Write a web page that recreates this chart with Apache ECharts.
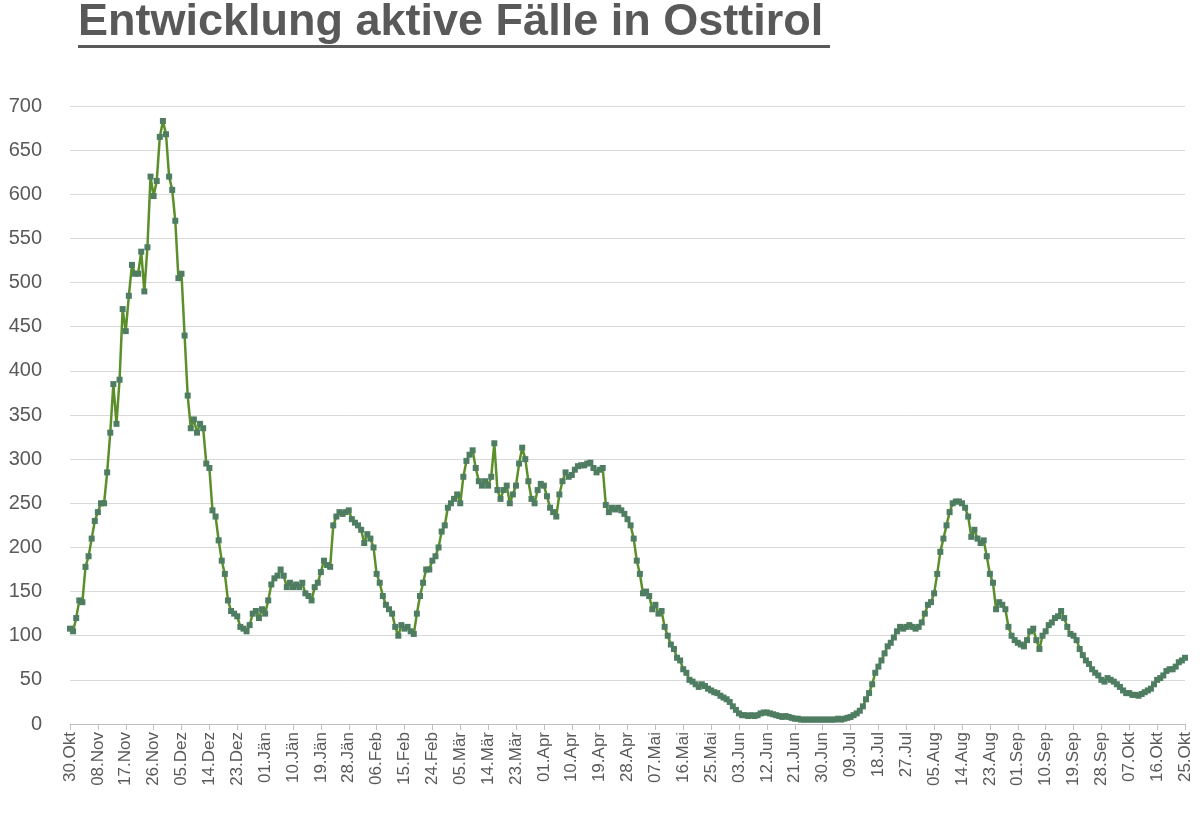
<!DOCTYPE html>
<html><head><meta charset="utf-8">
<script src="https://cdn.jsdelivr.net/npm/echarts@6/dist/echarts.min.js"></script>
<style>html,body{margin:0;background:#fff}#c{width:1200px;height:826px}</style>
</head><body><div id="c"></div>
<script>
const startDate = [2020, 9, 30];
const monthNames = ['Jän','Feb','Mär','Apr','Mai','Jun','Jul','Aug','Sep','Okt','Nov','Dez'];
const activeCases = [
108,105,120,140,138,178,190,210,230,
240,250,250,285,330,385,340,390,470,
445,485,520,510,510,535,490,540,620,
598,615,665,683,668,620,605,570,505,
510,440,372,335,345,330,340,335,295,
290,242,235,208,185,170,140,128,125,
122,110,108,105,112,125,128,120,130,
125,140,158,165,168,175,168,155,160,
155,158,155,160,148,145,140,155,160,
172,185,180,178,225,235,240,238,240,
242,232,228,225,220,205,215,210,200,
170,160,145,135,130,125,110,100,112,
108,110,105,102,125,145,160,175,175,
185,190,200,218,225,245,250,255,260,
250,280,298,305,310,290,275,270,275,
270,280,318,265,255,265,270,250,260,
270,295,313,300,275,255,250,265,272,
270,258,245,240,235,260,275,285,280,
282,288,292,293,293,295,296,290,285,
288,290,248,240,245,243,245,242,238,
232,225,210,185,170,148,150,145,130,
135,125,128,110,100,90,85,75,72,
62,58,50,48,45,42,45,43,40,
38,36,35,32,30,28,25,20,16,
12,10,10,9,10,9,10,12,13,
13,12,11,10,9,8,9,8,7,
6,6,5,5,5,5,5,5,5,
5,5,5,5,5,6,5,6,7,
8,10,12,15,20,28,35,45,58,
65,72,80,88,92,98,105,110,108,
110,112,110,108,110,115,125,135,138,
148,170,195,210,225,240,250,252,252,
250,245,235,212,220,210,205,208,190,
170,160,130,138,135,130,110,100,95,
92,90,88,95,105,108,95,85,100,
105,112,115,120,122,128,120,110,102,
100,95,85,78,72,68,62,58,55,
50,48,52,50,48,45,42,38,35,
35,33,33,32,34,36,38,40,45,
50,52,55,60,62,62,65,70,72,
75];
const categories = activeCases.map((_, i) => {
  const d = new Date(startDate[0], startDate[1], startDate[2] + i);
  return String(d.getDate()).padStart(2,'0') + '.' + monthNames[d.getMonth()];
});
const chart = echarts.init(document.getElementById('c'));
chart.setOption({
  animation:false,
  graphic:[
    {type:'text',left:78,top:0,style:{text:'Entwicklung aktive Fälle in Osttirol',font:'bold 45px "Liberation Sans", Arial',fill:'#595959'}},
    {type:'rect',left:78,top:45,shape:{width:752,height:3},style:{fill:'#595959'}}
  ],
  grid:{left:70,right:15,top:106,bottom:102},
  xAxis:{type:'category',data:categories,boundaryGap:false,
    axisLine:{lineStyle:{color:'#bfbfbf'}},
    axisTick:{show:true,interval:8,alignWithLabel:true,lineStyle:{color:'#bfbfbf'},length:6},
    axisLabel:{interval:8,rotate:90,color:'#595959',fontSize:17,fontFamily:'Liberation Sans',margin:8}},
  yAxis:{type:'value',min:0,max:700,interval:50,
    axisLine:{show:false},axisTick:{show:false},
    splitLine:{lineStyle:{color:'#d9d9d9',width:1}},
    axisLabel:{color:'#595959',fontSize:20,fontFamily:'Liberation Sans',margin:28}},
  series:[{type:'line',data:activeCases,symbol:'rect',symbolSize:6,showAllSymbol:true,
    lineStyle:{color:'#5b8f2a',width:2.5},
    itemStyle:{color:'#4e7d62'}}]
});
</script></body></html>
